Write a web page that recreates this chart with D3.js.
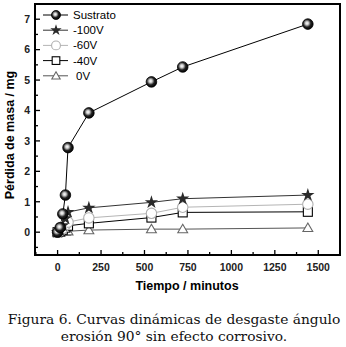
<!DOCTYPE html>
<html><head><meta charset="utf-8">
<script src="https://cdn.jsdelivr.net/npm/d3@7/dist/d3.min.js"></script>
<style>body{margin:0;background:#fff}svg{display:block}</style>
</head><body>
<script>
const times = [0, 15, 30, 45, 60, 180, 540, 720, 1440];
const sustrato = [0, 0.15, 0.6, 1.22, 2.78, 3.92, 4.94, 5.43, 6.84];
const v100 = [0, 0.05, 0.22, 0.45, 0.66, 0.8, 0.98, 1.1, 1.22];
const v60 = [0, 0.04, 0.12, 0.24, 0.33, 0.47, 0.62, 0.82, 0.92];
const v40 = [0, 0.02, 0.08, 0.15, 0.21, 0.29, 0.48, 0.65, 0.67];
const v0 = [0, 0.0, 0.01, 0.02, 0.03, 0.07, 0.1, 0.1, 0.14];
const seriesNames = ["Sustrato", "-100V", "-60V", "-40V", "0V"];
const xTicks = [0, 250, 500, 750, 1000, 1250, 1500];
const yTicks = [0, 1, 2, 3, 4, 5, 6, 7];
const caption = ["Figura 6. Curvas dinámicas de desgaste ángulo", "erosión 90° sin efecto corrosivo."];

const W = 346, H = 347;
const L = 35, R = 340, T = 4, B = 255;
const svg = d3.select("body").append("svg").attr("width", W).attr("height", H);
const defs = svg.append("defs");
const g = defs.append("radialGradient").attr("id", "sph").attr("cx", "42%").attr("cy", "42%").attr("r", "60%");
g.append("stop").attr("offset", "0%").attr("stop-color", "#fff");
g.append("stop").attr("offset", "25%").attr("stop-color", "#ccc");
g.append("stop").attr("offset", "60%").attr("stop-color", "#222");
g.append("stop").attr("offset", "100%").attr("stop-color", "#000");

const x = d3.scaleLinear().domain([-130, 1625]).range([L, R]);
const y = d3.scaleLinear().domain([-0.75, 7.5]).range([B, T]);

const font = "Arial, 'Liberation Sans', sans-serif";

// ticks (inward)
const ax = svg.append("g");
d3.range(-125, 1626, 125).forEach(t => {
  const major = t % 250 === 0;
  ax.append("line").attr("x1", x(t)).attr("x2", x(t)).attr("y1", B).attr("y2", B - (major ? 5 : 3))
    .attr("stroke", "#000").attr("stroke-width", 1.3);
});
d3.range(-0.5, 7.51, 0.5).forEach(v => {
  const major = Math.abs(v - Math.round(v)) < 1e-6;
  ax.append("line").attr("x1", L).attr("x2", L + (major ? 5 : 3)).attr("y1", y(v)).attr("y2", y(v))
    .attr("stroke", "#000").attr("stroke-width", 1.3);
});
xTicks.forEach(t => {
  ax.append("text").attr("x", x(t)).attr("y", 271).attr("text-anchor", "middle")
    .attr("font-family", font).attr("font-weight", "bold").attr("font-size", 10.5).attr("fill", "#222").text(t);
});
yTicks.forEach(v => {
  ax.append("text").attr("x", 30).attr("y", y(v) + 3.8).attr("text-anchor", "end")
    .attr("font-family", font).attr("font-weight", "bold").attr("font-size", 10.5).attr("fill", "#222").text(v);
});
svg.append("rect").attr("x", L).attr("y", T).attr("width", R - L).attr("height", B - T)
  .attr("fill", "none").attr("stroke", "#000").attr("stroke-width", 2);

// clip
defs.append("clipPath").attr("id", "clip").append("rect").attr("x", L).attr("y", T).attr("width", R - L).attr("height", B - T);

const series = [
  {name: "0V", vals: v0, line: "#555", marker: "tri"},
  {name: "-40V", vals: v40, line: "#000", marker: "sq"},
  {name: "-60V", vals: v60, line: "#b5b5b5", marker: "circ"},
  {name: "-100V", vals: v100, line: "#333", marker: "star"},
  {name: "Sustrato", vals: sustrato, line: "#000", marker: "sph"}
];

function drawMarker(sel, type, cx, cy, k = 1) {
  if (type === "sph") {
    sel.append("circle").attr("cx", cx).attr("cy", cy).attr("r", 5.3 * k).attr("fill", "url(#sph)").attr("stroke", "#000").attr("stroke-width", 0.8);
  } else if (type === "star") {
    sel.append("path").attr("d", d3.symbol().type(d3.symbolStar).size(55 * k * k)()).attr("transform", `translate(${cx},${cy})`).attr("fill", "#2a2a2a");
  } else if (type === "circ") {
    sel.append("circle").attr("cx", cx).attr("cy", cy).attr("r", 5.2 * k).attr("fill", "#fff").attr("stroke", "#b0b0b0").attr("stroke-width", 1.1);
  } else if (type === "sq") {
    const h = 4.5 * k;
    sel.append("rect").attr("x", cx - h).attr("y", cy - h).attr("width", 2 * h).attr("height", 2 * h).attr("fill", "#fff").attr("stroke", "#000").attr("stroke-width", 1.1);
  } else if (type === "tri") {
    sel.append("path").attr("d", d3.symbol().type(d3.symbolTriangle).size(42 * k * k)()).attr("transform", `translate(${cx},${cy + 0.8})`)
      .attr("fill", "#fff").attr("stroke", "#666").attr("stroke-width", 1.1);
  }
}

const plot = svg.append("g").attr("clip-path", "url(#clip)");
const lineGen = d3.line().x(d => x(d[0])).y(d => y(d[1]));
series.forEach(s => {
  const pts = times.map((t, i) => [t, s.vals[i]]);
  plot.append("path").attr("d", lineGen(pts)).attr("fill", "none").attr("stroke", s.line).attr("stroke-width", 1);
});
series.forEach(s => {
  const gg = plot.append("g");
  times.forEach((t, i) => drawMarker(gg, s.marker, x(t), y(s.vals[i])));
});

// legend
const leg = svg.append("g");
seriesNames.forEach((n, i) => {
  const s = series.find(d => d.name === n);
  const ly = 15 + i * 15.2;
  leg.append("line").attr("x1", 43).attr("x2", 68).attr("y1", ly).attr("y2", ly).attr("stroke", s.line).attr("stroke-width", 1);
  drawMarker(leg, s.marker, 56, ly, 0.85);
  leg.append("text").attr("x", n === "0V" ? 76 : 73).attr("y", ly + 4).attr("font-family", font).attr("font-size", 11.5).attr("fill", "#000").text(n);
});

// axis titles
svg.append("text").attr("x", 187).attr("y", 290).attr("text-anchor", "middle")
  .attr("font-family", font).attr("font-weight", "bold").attr("font-size", 12.5).text("Tiempo / minutos");
svg.append("text").attr("transform", "translate(14,135) rotate(-90)").attr("text-anchor", "middle")
  .attr("font-family", font).attr("font-weight", "bold").attr("font-size", 12.5).text("Pérdida de masa / mg");

// caption
caption.forEach((c, i) => {
  svg.append("text").attr("x", 174).attr("y", 324 + i * 17).attr("text-anchor", "middle")
    .attr("font-family", "'DejaVu Serif', serif").attr("font-size", 13.8).attr("fill", "#111").text(c);
});
</script>
</body></html>
